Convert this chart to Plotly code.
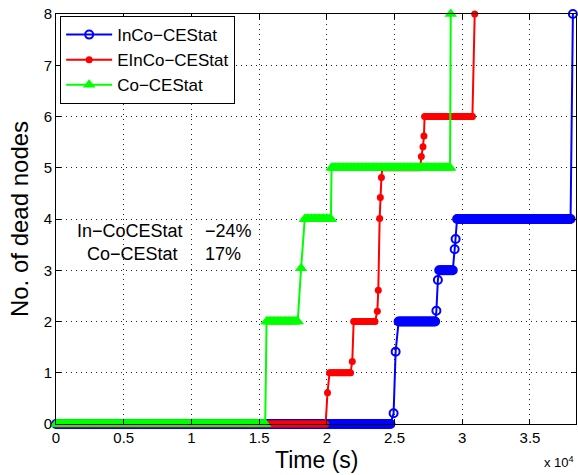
import numpy as np
import plotly.graph_objects as go

# ---- data (time in seconds, value = number of dead nodes) ----
SAMPLE_STEP = 100  # sampling period of the simulation output (s)

# flat runs: start time, end time, level
blue_run_start = [0, 25300, 28300, 29620]
blue_run_end = [24700, 28000, 29300, 38000]
blue_run_level = [0, 2, 3, 4]
# isolated transition samples
blue_pt_x = [24930, 25080, 28090, 28200, 29440, 29510, 38170]
blue_pt_y = [0.21, 1.41, 2.21, 2.81, 3.41, 3.61, 8]

red_run_start = [0, 20200, 21980, 24100, 27220]
red_run_end = [19910, 21750, 23560, 26900, 30750]
red_run_level = [0, 1, 2, 5, 6]
red_pt_x = [20050, 21880, 23730, 23800, 23900, 23950, 24030, 26980, 27100, 27170, 30920]
red_pt_y = [0.61, 1.22, 2.20, 2.61, 4.01, 4.42, 4.81, 5.22, 5.41, 5.62, 8]

green_run_start = [0, 15550, 18370, 20350]
green_run_end = [15450, 17850, 20300, 29100]
green_run_level = [0, 2, 4, 5]
green_pt_x = [18100, 29150]
green_pt_y = [3.04, 8]

series_names = ["InCo\u2212CEStat", "EInCo\u2212CEStat", "Co\u2212CEStat"]

x_tick_vals = [0, 5000, 10000, 15000, 20000, 25000, 30000, 35000]
x_tick_text = ["0", "0.5", "1", "1.5", "2", "2.5", "3", "3.5"]
y_tick_vals = [0, 1, 2, 3, 4, 5, 6, 7, 8]

x_title = "Time (s)"
y_title = "No. of dead nodes"
note_left = ["In\u2212CoCEStat", "Co\u2212CEStat"]
note_right = ["\u221224%", "17%"]


def build(run_start, run_end, run_level, pt_x, pt_y):
    xs, ys = [], []
    for a, b, v in zip(run_start, run_end, run_level):
        t = list(np.arange(a, b, SAMPLE_STEP)) + [b]
        xs += t
        ys += [v] * len(t)
    xs += pt_x
    ys += pt_y
    order = np.argsort(xs, kind="stable")
    return [xs[i] for i in order], [ys[i] for i in order]


bx, by = build(blue_run_start, blue_run_end, blue_run_level, blue_pt_x, blue_pt_y)
rx, ry = build(red_run_start, red_run_end, red_run_level, red_pt_x, red_pt_y)
gx, gy = build(green_run_start, green_run_end, green_run_level, green_pt_x, green_pt_y)

FONT = "Liberation Sans, Arial, sans-serif"

fig = go.Figure()
fig.add_trace(go.Scatter(
    x=bx, y=by, name=series_names[0], mode="lines+markers",
    line=dict(color="#0000FF", width=2),
    marker=dict(symbol="circle-open", size=8, color="#0000FF", line=dict(width=2, color="#0000FF")),
    cliponaxis=False,
))
fig.add_trace(go.Scatter(
    x=rx, y=ry, name=series_names[1], mode="lines+markers",
    line=dict(color="#FF0000", width=2),
    marker=dict(symbol="circle", size=7, color="#FF0000", line=dict(width=0)),
    cliponaxis=False,
))
fig.add_trace(go.Scatter(
    x=gx, y=gy, name=series_names[2], mode="lines+markers",
    line=dict(color="#00FF00", width=2),
    marker=dict(symbol="triangle-up", size=11, color="#00FF00", line=dict(width=0)),
    cliponaxis=False,
))

axis_common = dict(
    showline=True, linecolor="black", linewidth=1, mirror="ticks",
    ticks="inside", ticklen=5, tickcolor="black", tickwidth=1,
    showgrid=True, gridcolor="#222222", gridwidth=1, griddash="1px,4px",
    zeroline=False, tickfont=dict(family=FONT, size=15, color="black"),
)

fig.update_xaxes(
    range=[0, 38400], tickvals=x_tick_vals, ticktext=x_tick_text,
    **axis_common,
)
fig.update_yaxes(
    range=[0, 8], tickvals=y_tick_vals,
    title=dict(text=y_title, font=dict(family=FONT, size=24, color="black"), standoff=8),
    **axis_common,
)

annos = []
for i, (lt, rt) in enumerate(zip(note_left, note_right)):
    yv = [3.77, 3.31][i]
    xl = [1374, 2113][i]
    annos.append(dict(x=xl, y=yv, xref="x", yref="y", text=lt, showarrow=False,
                      xanchor="left", yanchor="middle",
                      font=dict(family=FONT, size=18, color="black")))
    annos.append(dict(x=10850, y=yv, xref="x", yref="y", text=rt, showarrow=False,
                      xanchor="left", yanchor="middle",
                      font=dict(family=FONT, size=18, color="black")))
annos.append(dict(x=0.5, y=-0.089, xref="paper", yref="paper", text=x_title,
                  showarrow=False, xanchor="center", yanchor="middle",
                  font=dict(family=FONT, size=23, color="black")))
annos.append(dict(x=1.0, y=-0.093, xref="paper", yref="paper", text="x 10<sup>4</sup>",
                  showarrow=False, xanchor="right", yanchor="middle",
                  font=dict(family=FONT, size=13, color="black")))

fig.update_layout(
    width=578, height=475,
    margin=dict(l=56, r=2, t=14, b=51),
    paper_bgcolor="white", plot_bgcolor="white",
    font=dict(family=FONT, color="black"),
    showlegend=True,
    legend=dict(
        x=0.008, y=0.995, xanchor="left", yanchor="top",
        bgcolor="white", bordercolor="black", borderwidth=1,
        font=dict(family=FONT, size=17, color="black"),
        itemwidth=46, tracegroupgap=0,
    ),
    annotations=annos,
)

fig.write_html("out.html")
